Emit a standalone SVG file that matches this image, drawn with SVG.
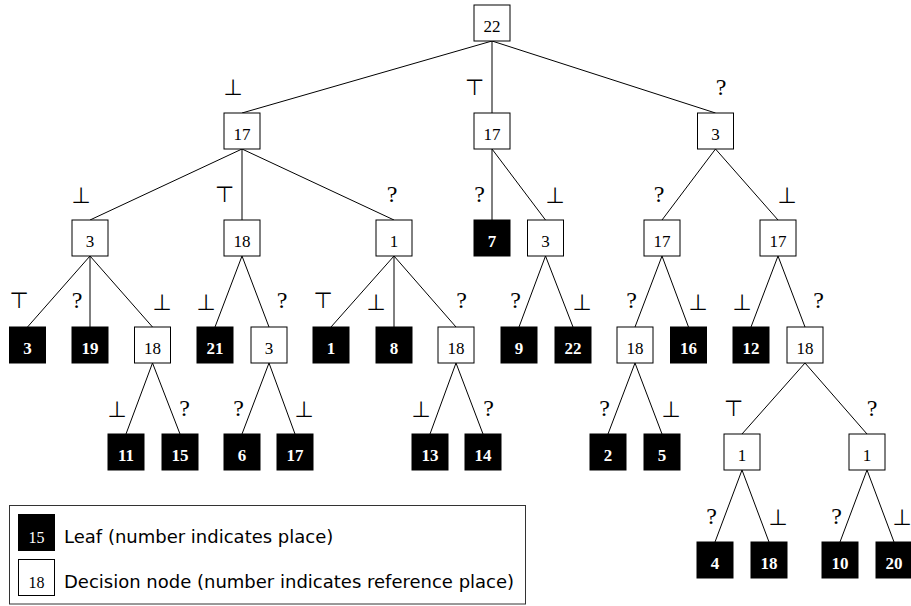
<svg xmlns="http://www.w3.org/2000/svg" width="911" height="606" viewBox="0 0 911 606">
<style>
.bg{fill:#fff}
.dec rect{fill:#fff;stroke:#000;stroke-width:1}
.leaf rect{fill:#000;stroke:#000;stroke-width:1}
.dec text{font-family:"Liberation Serif","DejaVu Serif",serif;font-size:17px;fill:#000;text-anchor:middle}
.leaf text{font-family:"Liberation Serif","DejaVu Serif",serif;font-size:17px;font-weight:bold;fill:#fff;text-anchor:middle}
#connectors line{stroke:#000;stroke-width:1}
.sym{font-family:"DejaVu Sans",sans-serif;font-size:22px;fill:#000;text-anchor:middle}
.q{font-family:"Liberation Serif","DejaVu Serif",serif;font-size:24px;fill:#000;text-anchor:middle}
.legtxt{font-family:"DejaVu Sans","Liberation Sans",sans-serif;font-size:18px;fill:#000}
.legnum{font-family:"Liberation Serif","DejaVu Serif",serif;font-size:16px;text-anchor:middle}
</style>
<rect class="bg" x="0" y="0" width="911" height="606"/>
<g id="connectors">
<line x1="492" y1="41" x2="242" y2="113"/>
<line x1="492" y1="41" x2="492" y2="113"/>
<line x1="492" y1="41" x2="715.5" y2="113"/>
<line x1="242" y1="149" x2="90" y2="220"/>
<line x1="242" y1="149" x2="242" y2="220"/>
<line x1="242" y1="149" x2="394" y2="220"/>
<line x1="492" y1="149" x2="492" y2="220"/>
<line x1="492" y1="149" x2="545.5" y2="220"/>
<line x1="715.5" y1="149" x2="662" y2="220"/>
<line x1="715.5" y1="149" x2="778" y2="220"/>
<line x1="90" y1="256" x2="27.5" y2="327"/>
<line x1="90" y1="256" x2="90" y2="327"/>
<line x1="90" y1="256" x2="152.5" y2="327"/>
<line x1="242" y1="256" x2="215" y2="327"/>
<line x1="242" y1="256" x2="269" y2="327"/>
<line x1="394" y1="256" x2="331" y2="327"/>
<line x1="394" y1="256" x2="394" y2="327"/>
<line x1="394" y1="256" x2="456" y2="327"/>
<line x1="545.5" y1="256" x2="519" y2="327"/>
<line x1="545.5" y1="256" x2="573" y2="327"/>
<line x1="662" y1="256" x2="635" y2="327"/>
<line x1="662" y1="256" x2="688.5" y2="327"/>
<line x1="778" y1="256" x2="751" y2="327"/>
<line x1="778" y1="256" x2="805" y2="327"/>
<line x1="152.5" y1="363" x2="126" y2="434"/>
<line x1="152.5" y1="363" x2="180" y2="434"/>
<line x1="269" y1="363" x2="242" y2="434"/>
<line x1="269" y1="363" x2="295" y2="434"/>
<line x1="456" y1="363" x2="430" y2="434"/>
<line x1="456" y1="363" x2="483" y2="434"/>
<line x1="635" y1="363" x2="608" y2="434"/>
<line x1="635" y1="363" x2="662" y2="434"/>
<line x1="805" y1="363" x2="742" y2="434"/>
<line x1="805" y1="363" x2="867" y2="434"/>
<line x1="742" y1="470" x2="715" y2="542"/>
<line x1="742" y1="470" x2="769" y2="542"/>
<line x1="867" y1="470" x2="840" y2="542"/>
<line x1="867" y1="470" x2="894" y2="542"/>
<text class="sym" x="233" y="95">⊥</text>
<text class="sym" x="474.5" y="95">⊤</text>
<text class="q" x="721" y="95">?</text>
<text class="sym" x="81" y="203">⊥</text>
<text class="sym" x="224.5" y="202">⊤</text>
<text class="q" x="392" y="202">?</text>
<text class="q" x="479.5" y="202">?</text>
<text class="sym" x="555" y="203">⊥</text>
<text class="q" x="659" y="202">?</text>
<text class="sym" x="787" y="203">⊥</text>
<text class="sym" x="19" y="308">⊤</text>
<text class="q" x="77" y="308">?</text>
<text class="sym" x="162" y="310">⊥</text>
<text class="sym" x="206" y="310">⊥</text>
<text class="q" x="282" y="308">?</text>
<text class="sym" x="323" y="308">⊤</text>
<text class="sym" x="376" y="310">⊥</text>
<text class="q" x="461.5" y="308">?</text>
<text class="q" x="515.5" y="308">?</text>
<text class="sym" x="582" y="310">⊥</text>
<text class="q" x="631.5" y="308">?</text>
<text class="sym" x="698" y="310">⊥</text>
<text class="sym" x="742" y="310">⊥</text>
<text class="q" x="818.5" y="308">?</text>
<text class="sym" x="117" y="417">⊥</text>
<text class="q" x="184.5" y="416">?</text>
<text class="q" x="238.5" y="416">?</text>
<text class="sym" x="304" y="417">⊥</text>
<text class="sym" x="421" y="417">⊥</text>
<text class="q" x="488.5" y="416">?</text>
<text class="q" x="604.5" y="416">?</text>
<text class="sym" x="671" y="417">⊥</text>
<text class="sym" x="733.5" y="416">⊤</text>
<text class="q" x="872" y="416">?</text>
<text class="q" x="711.5" y="524">?</text>
<text class="sym" x="778" y="525">⊥</text>
<text class="q" x="836.5" y="524">?</text>
<text class="sym" x="902" y="525">⊥</text>
</g>
<g id="n22" class="dec"><rect x="474" y="5" width="36" height="36"/><text x="492" y="31.5">22</text></g>
<g id="nA" class="dec"><rect x="224" y="113" width="36" height="36"/><text x="242" y="139.5">17</text></g>
<g id="nB" class="dec"><rect x="474" y="113" width="36" height="36"/><text x="492" y="139.5">17</text></g>
<g id="nC" class="dec"><rect x="697.5" y="113" width="36" height="36"/><text x="715.5" y="139.5">3</text></g>
<g id="nA1" class="dec"><rect x="72" y="220" width="36" height="36"/><text x="90" y="246.5">3</text></g>
<g id="nA2" class="dec"><rect x="224" y="220" width="36" height="36"/><text x="242" y="246.5">18</text></g>
<g id="nA3" class="dec"><rect x="376" y="220" width="36" height="36"/><text x="394" y="246.5">1</text></g>
<g id="lB1" class="leaf"><rect x="474" y="220" width="36" height="36"/><text x="492" y="246.5">7</text></g>
<g id="nB2" class="dec"><rect x="527.5" y="220" width="36" height="36"/><text x="545.5" y="246.5">3</text></g>
<g id="nC1" class="dec"><rect x="644" y="220" width="36" height="36"/><text x="662" y="246.5">17</text></g>
<g id="nC2" class="dec"><rect x="760" y="220" width="36" height="36"/><text x="778" y="246.5">17</text></g>
<g id="lA1a" class="leaf"><rect x="9.5" y="327" width="36" height="36"/><text x="27.5" y="353.5">3</text></g>
<g id="lA1b" class="leaf"><rect x="72" y="327" width="36" height="36"/><text x="90" y="353.5">19</text></g>
<g id="nA1c" class="dec"><rect x="134.5" y="327" width="36" height="36"/><text x="152.5" y="353.5">18</text></g>
<g id="lA2a" class="leaf"><rect x="197" y="327" width="36" height="36"/><text x="215" y="353.5">21</text></g>
<g id="nA2b" class="dec"><rect x="251" y="327" width="36" height="36"/><text x="269" y="353.5">3</text></g>
<g id="lA3a" class="leaf"><rect x="313" y="327" width="36" height="36"/><text x="331" y="353.5">1</text></g>
<g id="lA3b" class="leaf"><rect x="376" y="327" width="36" height="36"/><text x="394" y="353.5">8</text></g>
<g id="nA3c" class="dec"><rect x="438" y="327" width="36" height="36"/><text x="456" y="353.5">18</text></g>
<g id="lB2a" class="leaf"><rect x="501" y="327" width="36" height="36"/><text x="519" y="353.5">9</text></g>
<g id="lB2b" class="leaf"><rect x="555" y="327" width="36" height="36"/><text x="573" y="353.5">22</text></g>
<g id="nC1a" class="dec"><rect x="617" y="327" width="36" height="36"/><text x="635" y="353.5">18</text></g>
<g id="lC1b" class="leaf"><rect x="670.5" y="327" width="36" height="36"/><text x="688.5" y="353.5">16</text></g>
<g id="lC2a" class="leaf"><rect x="733" y="327" width="36" height="36"/><text x="751" y="353.5">12</text></g>
<g id="nC2b" class="dec"><rect x="787" y="327" width="36" height="36"/><text x="805" y="353.5">18</text></g>
<g id="l11" class="leaf"><rect x="108" y="434" width="36" height="36"/><text x="126" y="460.5">11</text></g>
<g id="l15" class="leaf"><rect x="162" y="434" width="36" height="36"/><text x="180" y="460.5">15</text></g>
<g id="l6" class="leaf"><rect x="224" y="434" width="36" height="36"/><text x="242" y="460.5">6</text></g>
<g id="l17" class="leaf"><rect x="277" y="434" width="36" height="36"/><text x="295" y="460.5">17</text></g>
<g id="l13" class="leaf"><rect x="412" y="434" width="36" height="36"/><text x="430" y="460.5">13</text></g>
<g id="l14" class="leaf"><rect x="465" y="434" width="36" height="36"/><text x="483" y="460.5">14</text></g>
<g id="l2" class="leaf"><rect x="590" y="434" width="36" height="36"/><text x="608" y="460.5">2</text></g>
<g id="l5" class="leaf"><rect x="644" y="434" width="36" height="36"/><text x="662" y="460.5">5</text></g>
<g id="nD1" class="dec"><rect x="724" y="434" width="36" height="36"/><text x="742" y="460.5">1</text></g>
<g id="nD2" class="dec"><rect x="849" y="434" width="36" height="36"/><text x="867" y="460.5">1</text></g>
<g id="l4" class="leaf"><rect x="697" y="542" width="36" height="36"/><text x="715" y="568.5">4</text></g>
<g id="l18" class="leaf"><rect x="751" y="542" width="36" height="36"/><text x="769" y="568.5">18</text></g>
<g id="l10" class="leaf"><rect x="822" y="542" width="36" height="36"/><text x="840" y="568.5">10</text></g>
<g id="l20" class="leaf"><rect x="876" y="542" width="36" height="36"/><text x="894" y="568.5">20</text></g>
<g id="legend">
<rect x="9.5" y="505.5" width="516" height="98.5" fill="#fff" stroke="#333" stroke-width="1"/>
<rect x="18.5" y="514.5" width="36" height="36" fill="#000" stroke="#000"/>
<text class="legnum" x="36.5" y="543" fill="#fff">15</text>
<text class="legtxt" x="64" y="543">Leaf (number indicates place)</text>
<rect x="18.5" y="559.5" width="36" height="36" fill="#fff" stroke="#000"/>
<text class="legnum" x="36.5" y="588" fill="#000">18</text>
<text class="legtxt" x="64" y="588">Decision node (number indicates reference place)</text>
</g>
</svg>
